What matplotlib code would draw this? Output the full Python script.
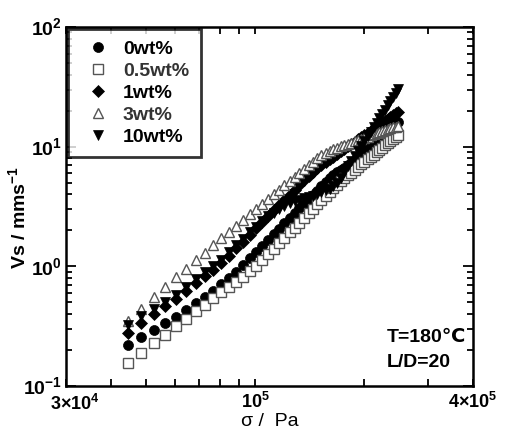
import matplotlib
matplotlib.use('Agg')
import matplotlib.pyplot as plt
from matplotlib.lines import Line2D
from matplotlib.ticker import FixedLocator, NullFormatter, LogLocator
from matplotlib.transforms import ScaledTranslation

plt.rcParams['font.family'] = ['Liberation Sans', 'DejaVu Sans']
plt.rcParams['mathtext.fontset'] = 'custom'
plt.rcParams['mathtext.rm'] = 'Liberation Sans'
plt.rcParams['mathtext.bf'] = 'Liberation Sans:bold'

# shear stress / Pa
stress = [44500, 48500, 52500, 56500, 60500, 64500, 68500, 72500, 76500, 80500,
          84500, 88500, 92500, 96500, 100500, 104500, 108500, 112500, 116500, 120500,
          124500, 128500, 132500, 136500, 140500, 144500, 148500, 152500, 156500, 160500,
          164500, 168500, 172500, 176500, 180500, 184500, 188500, 192500, 196500, 200500,
          204500, 208500, 212500, 216500, 220500, 224500, 228500, 232500, 236500, 240500,
          244500, 248500]

# slip velocity / mm s-1
v_0wt = [0.221, 0.257, 0.295, 0.336, 0.379, 0.435, 0.494, 0.556, 0.624, 0.718,
         0.792, 0.905, 1.03, 1.17, 1.32, 1.49, 1.66, 1.86, 2.06, 2.29,
         2.53, 2.78, 3.05, 3.34, 3.64, 3.96, 4.30, 4.65, 5.04, 5.44,
         5.81, 6.11, 6.39, 6.65, 7.01, 7.37, 7.80, 8.27, 8.74, 9.22,
         9.72, 10.2, 10.7, 11.3, 11.8, 12.4, 13.0, 13.6, 14.2, 14.9,
         15.5, 16.2]
v_05wt = [0.155, 0.189, 0.227, 0.269, 0.316, 0.366, 0.420, 0.478, 0.540, 0.605,
          0.673, 0.745, 0.822, 0.907, 1.01, 1.12, 1.26, 1.40, 1.56, 1.73,
          1.92, 2.11, 2.32, 2.55, 2.79, 3.04, 3.30, 3.59, 3.89, 4.21,
          4.51, 4.81, 5.12, 5.44, 5.75, 6.08, 6.40, 6.74, 7.10, 7.46,
          7.83, 8.20, 8.59, 9.00, 9.40, 9.83, 10.3, 10.7, 11.2, 11.6,
          12.1, 12.6]
v_1wt = [0.278, 0.334, 0.396, 0.463, 0.536, 0.625, 0.721, 0.825, 0.938, 1.06,
         1.22, 1.41, 1.61, 1.84, 2.09, 2.35, 2.64, 2.94, 3.26, 3.61,
         3.97, 4.36, 4.78, 5.22, 5.69, 6.18, 6.60, 6.99, 7.39, 7.82,
         8.23, 8.67, 9.14, 9.59, 10.1, 10.6, 11.0, 11.5, 12.0, 12.6,
         13.1, 13.6, 14.2, 14.7, 15.3, 15.9, 16.5, 17.1, 17.7, 18.3,
         19.0, 19.6]
v_3wt = [0.350, 0.442, 0.549, 0.669, 0.808, 0.959, 1.12, 1.30, 1.50, 1.71,
         1.95, 2.19, 2.45, 2.73, 3.02, 3.32, 3.65, 4.00, 4.36, 4.75,
         5.16, 5.58, 6.03, 6.50, 6.99, 7.51, 8.00, 8.46, 8.88, 9.22,
         9.53, 9.81, 10.1, 10.3, 10.6, 10.8, 11.1, 11.4, 11.6, 11.9,
         12.1, 12.4, 12.7, 12.9, 13.2, 13.4, 13.7, 14.0, 14.2, 14.5,
         14.7, 15.0]
v_10wt = [0.324, 0.381, 0.443, 0.508, 0.579, 0.676, 0.779, 0.891, 1.01, 1.14,
          1.31, 1.50, 1.69, 1.92, 2.15, 2.41, 2.63, 2.81, 2.99, 3.18,
          3.37, 3.49, 3.59, 3.69, 3.80, 3.90, 4.03, 4.18, 4.33, 4.47,
          4.68, 4.99, 5.50, 6.15, 6.90, 7.65, 8.43, 9.26, 10.2, 11.2,
          12.2, 13.3, 14.6, 15.9, 17.3, 18.8, 20.4, 22.1, 24.0, 25.9,
          28.0, 30.2]

labels = ['0wt%', '0.5wt%', '1wt%', '3wt%', '10wt%']
x_major = [3e4, 1e5, 4e5]
x_major_labels = ['3×10$^{\\mathbf{4}}$', '10$^{\\mathbf{5}}$', '4×10$^{\\mathbf{5}}$']
x_minor = [4e4, 5e4, 6e4, 7e4, 8e4, 9e4, 2e5, 3e5]
y_major = [0.1, 1, 10, 100]
y_major_labels = ['10$^{\\mathbf{-1}}$', '10$^{\\mathbf{0}}$', '10$^{\\mathbf{1}}$', '10$^{\\mathbf{2}}$']

grey = '#555555'
styles = [
    dict(marker='o', ms=7.2, mfc='black', mec='black', mew=0.5, zorder=3),
    dict(marker='s', ms=7.5, mfc='white', mec=grey, mew=1.0, zorder=4),
    dict(marker='D', ms=6.0, mfc='black', mec='black', mew=0.5, zorder=3),
    dict(marker='^', ms=7.5, mfc='white', mec=grey, mew=1.0, zorder=4),
    dict(marker='v', ms=7.8, mfc='black', mec='black', mew=0.5, zorder=5),
]
series = [v_0wt, v_05wt, v_1wt, v_3wt, v_10wt]

fig = plt.figure(figsize=(5.05, 4.32), dpi=100)
ax = fig.add_axes([66 / 505, 1 - 386 / 432, (473 - 66) / 505, (386 - 27) / 432])

for vals, st in zip(series, styles):
    ax.plot(stress, vals, linestyle='none', **st)

ax.set_xscale('log')
ax.set_yscale('log')
ax.set_xlim(3e4, 4e5)
ax.set_ylim(0.1, 100)

ax.xaxis.set_major_locator(FixedLocator(x_major))
ax.set_xticklabels(x_major_labels)
ax.xaxis.set_minor_locator(FixedLocator(x_minor))
ax.xaxis.set_minor_formatter(NullFormatter())
ax.yaxis.set_major_locator(FixedLocator(y_major))
ax.set_yticklabels(y_major_labels)
ax.yaxis.set_minor_locator(LogLocator(base=10, subs=range(2, 10)))
ax.yaxis.set_minor_formatter(NullFormatter())

for lab in ax.get_yticklabels():
    lab.set_fontweight('bold')
    lab.set_fontsize(14)
for lab in ax.get_xticklabels():
    lab.set_fontweight('bold')
    lab.set_fontsize(13)

ax.tick_params(which='both', direction='in', top=True, right=True, width=1.3)
ax.tick_params(axis='y', which='major', length=7, pad=3)
ax.tick_params(axis='y', which='minor', length=4)
ax.tick_params(axis='x', which='major', length=5, pad=4)
ax.tick_params(axis='x', which='minor', length=5)
for sp in ax.spines.values():
    sp.set_linewidth(1.8)

# nudge the first x label right, as in the original
first = ax.get_xticklabels()[0]
first.set_transform(first.get_transform() + ScaledTranslation(9 / 100, -2 / 100, fig.dpi_scale_trans))

ax.set_ylabel('Vs / mms$^{\\mathbf{-1}}$', fontsize=14, fontweight='bold')
ax.yaxis.set_label_coords(-0.088, 0.47)
ax.set_xlabel('σ /  Pa', fontsize=14)
ax.xaxis.set_label_coords(0.5, -0.074)

handles = []
for st in styles:
    st2 = {k: v for k, v in st.items() if k != 'zorder'}
    handles.append(Line2D([], [], linestyle='none', **st2))
leg = ax.legend(handles, labels, loc='upper left', bbox_to_anchor=(0.0, 1.0),
                borderaxespad=0.1, frameon=True, fancybox=False,
                prop={'weight': 'bold', 'size': 14}, handletextpad=0.33,
                labelspacing=0.22, borderpad=0.6, handlelength=1.9)
leg.get_frame().set_edgecolor('black')
leg.get_frame().set_linewidth(2.0)
leg.set_zorder(10)
for t, c in zip(leg.get_texts(), ['black', '#333333', 'black', '#333333', 'black']):
    t.set_color(c)

ax.text(0.787, 0.135, 'T=180℃', transform=ax.transAxes, fontsize=14,
        fontweight='bold', ha='left', va='center')
ax.text(0.787, 0.065, 'L/D=20', transform=ax.transAxes, fontsize=14,
        fontweight='bold', ha='left', va='center')

fig.savefig('out.png', dpi=100)
